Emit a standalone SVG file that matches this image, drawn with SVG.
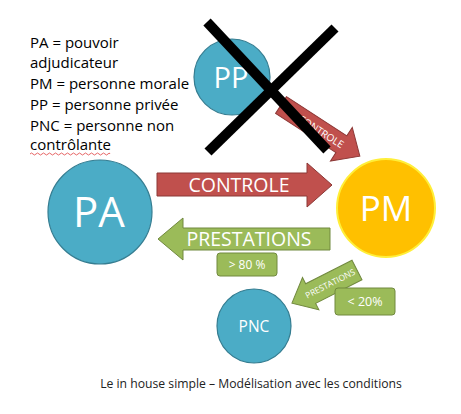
<svg xmlns="http://www.w3.org/2000/svg" width="461" height="414" viewBox="0 0 461 414">
<style>
.blue{fill:#4bacc6;stroke:#357d91;stroke-width:1.2}
.pm{fill:#ffc000;stroke:#ffef3a;stroke-width:2}
.red{fill:#c0504d;stroke:#8c3836;stroke-width:1}
.green{fill:#9bbb59;stroke:#71893f;stroke-width:1}
.wt{fill:#ffffff;font-family:"Open Sans","Liberation Sans",sans-serif;text-anchor:middle}
.lg{fill:#000000;font-family:"Open Sans","Liberation Sans",sans-serif;font-size:15px}
.cap{fill:#222222;font-family:"Open Sans","Liberation Sans",sans-serif;font-size:12.2px;text-anchor:middle}
</style>
<rect width="461" height="414" fill="#ffffff"/>
<g id="legend">
<text class="lg" x="30" y="48">PA = pouvoir</text>
<text class="lg" x="30" y="68">adjudicateur</text>
<text class="lg" x="30" y="89">PM = personne morale</text>
<text class="lg" x="30" y="110">PP = personne privée</text>
<text class="lg" x="30" y="131">PNC = personne non</text>
<text class="lg" x="30" y="150">contrôlante</text>
<path d="M30,154 q1.5,-2 3,0 t3,0 t3,0 t3,0 t3,0 t3,0 t3,0 t3,0 t3,0 t3,0 t3,0 t3,0 t3,0 t3,0 t3,0 t3,0 t3,0 t3,0 t3,0 t3,0 t3,0 t3,0 t3,0 t3,0 t3,0 t3,0 t2,0" fill="none" stroke="#e04040" stroke-width="0.8"/>
</g>
<g id="connectors">
<g id="controle-pp-pm" transform="translate(281,105) rotate(33)">
<polygon class="red" points="0,-10 72,-10 72,-20 94,0 72,20 72,10 0,10"/>
<text class="wt" x="48" y="4" font-size="10">CONTROLE</text>
</g>
<g id="controle-pa-pm">
<polygon class="red" points="157,173 307,173 307,163 332,185 307,207 307,196 157,196"/>
<text class="wt" x="239" y="192" font-size="19.5">CONTROLE</text>
</g>
<g id="prestations-pm-pa">
<polygon class="green" points="330,228 183,228 183,218 158,239 183,260 183,250 330,250"/>
<text class="wt" x="249" y="246" font-size="19.5">PRESTATIONS</text>
</g>
<g id="prestations-pm-pnc" transform="translate(357,270) rotate(153)">
<polygon class="green" points="0,-11 52,-11 52,-18 73,0 52,18 52,11 0,11"/>
<text class="wt" x="30" y="3" font-size="8.5" transform="rotate(180 30 0)">PRESTATIONS</text>
</g>
</g>
<g id="label-80">
<rect class="green" x="217" y="253" width="60" height="23" rx="3"/>
<text class="wt" x="247" y="269" font-size="12">&gt; 80 %</text>
</g>
<g id="label-20">
<rect class="green" x="335" y="288" width="60" height="27" rx="3"/>
<text class="wt" x="365" y="306" font-size="12.5">&lt; 20%</text>
</g>
<g id="PP">
<circle class="blue" cx="232" cy="77" r="38"/>
<text class="wt" x="231" y="88" font-size="29">PP</text>
</g>
<g id="cross">
<line x1="207" y1="22" x2="327" y2="150" stroke="#000000" stroke-width="10"/>
<line x1="335" y1="28" x2="208" y2="152" stroke="#000000" stroke-width="10"/>
</g>
<g id="PA">
<circle class="blue" cx="100" cy="212" r="52"/>
<text class="wt" x="99" y="227" font-size="42">PA</text>
</g>
<g id="PM">
<circle class="pm" cx="386" cy="208" r="49"/>
<text class="wt" x="386" y="221" font-size="35">PM</text>
</g>
<g id="PNC">
<circle class="blue" cx="254" cy="326" r="37"/>
<text class="wt" x="254" y="332" font-size="15.5">PNC</text>
</g>
<text class="cap" x="251" y="388">Le in house simple – Modélisation avec les conditions</text>
</svg>
